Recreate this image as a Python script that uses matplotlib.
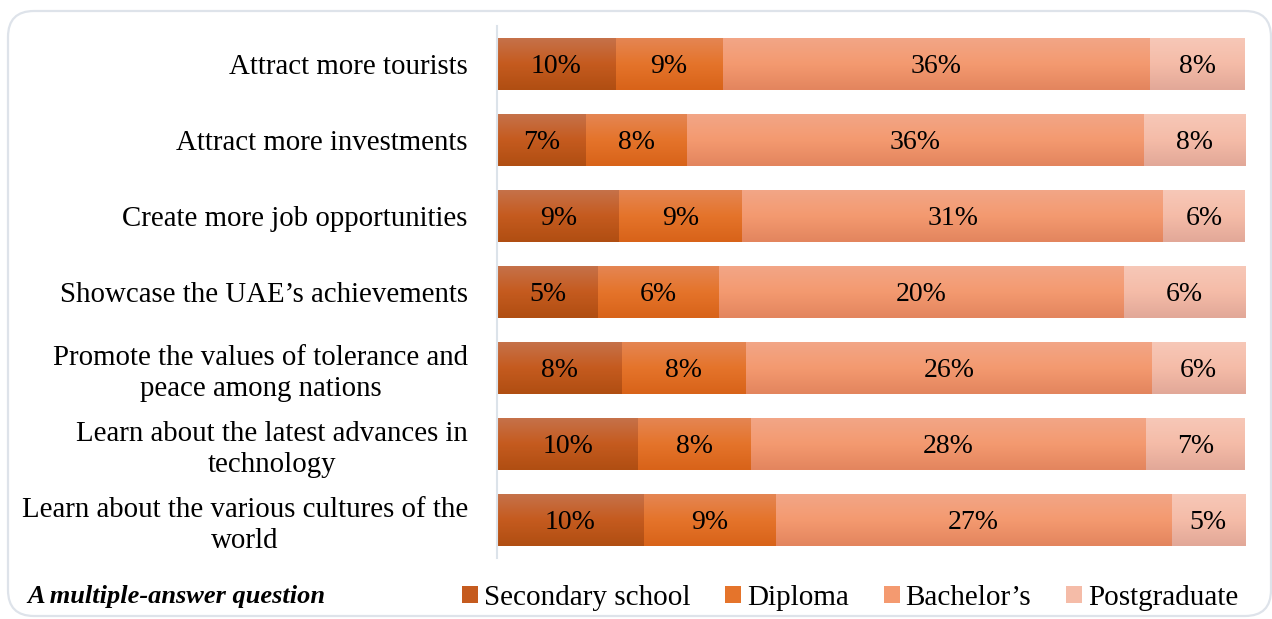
import matplotlib
matplotlib.use("Agg")
import matplotlib.pyplot as plt
import numpy as np
from matplotlib.patches import FancyBboxPatch, Patch
from matplotlib.colors import LinearSegmentedColormap

plt.rcParams["font.family"] = ["Liberation Serif", "DejaVu Serif"]

categories = [
    "Attract more tourists",
    "Attract more investments",
    "Create more job opportunities",
    "Showcase the UAE\u2019s achievements",
    "Promote the values of tolerance and\npeace among nations",
    "Learn about the latest advances in\ntechnology",
    "Learn about the various cultures of the\nworld",
]
series = ["Secondary school", "Diploma", "Bachelor\u2019s", "Postgraduate"]
secondary = [10, 7, 9, 5, 8, 10, 10]
diploma = [9, 8, 9, 6, 8, 8, 9]
bachelors = [36, 36, 31, 20, 26, 28, 27]
postgrad = [8, 8, 6, 6, 6, 7, 5]

# top / middle / bottom shades for each series gradient
shades = [
    ("#C6724B", "#C55B1F", "#B04E12"),
    ("#E48654", "#E5742B", "#D86319"),
    ("#F2A687", "#F49A70", "#E3855E"),
    ("#F7C8B8", "#F5BCA8", "#E2A898"),
]

W, H = 1272, 619
fig = plt.figure(figsize=(W / 100, H / 100), dpi=100)
frame = FancyBboxPatch((8 / W, 1 - 616 / H), (1271 - 8) / W, (616 - 11) / H,
                       boxstyle="round,pad=0,rounding_size=%f" % (26 / W),
                       transform=fig.transFigure, facecolor="none", edgecolor="#DEE3EA",
                       linewidth=1.6, mutation_aspect=W / H, zorder=-1)
fig.patches.append(frame)

ax = fig.add_axes([497 / W, 1 - 558 / H, (1245 - 497) / W, (558 - 26) / H])
ax.set_facecolor("none")

data = np.array([secondary, diploma, bachelors, postgrad], dtype=float)
totals = data.sum(axis=0)
y = np.arange(len(categories))
left = np.zeros(len(categories))
h = 0.69

for i, name in enumerate(series):
    frac = data[i] / totals
    bars = ax.barh(y, frac, left=left, height=h, color=shades[i][1], linewidth=0)
    cmap = LinearSegmentedColormap.from_list("g%d" % i, list(shades[i]))
    grad = np.linspace(0, 1, 64).reshape(-1, 1)
    for b, v, l, f in zip(bars, data[i], left, frac):
        x0, y0 = b.get_x(), b.get_y()
        im = ax.imshow(grad, cmap=cmap, aspect="auto", interpolation="bilinear",
                       extent=(x0, x0 + b.get_width(), y0 + b.get_height(), y0), zorder=2)
        im.set_clip_path(b)
        ax.text(l + f / 2, b.get_y() + b.get_height() / 2 + 0.03, "%d%%" % v,
                ha="center", va="center", fontsize=20, color="black", zorder=3)
    left += frac

ax.set_xlim(0, 1)
ax.set_ylim(len(categories) - 0.5, -0.5)
ax.set_yticks(y)
ax.set_yticklabels(categories, fontsize=20.8, linespacing=1.27, multialignment="center")
ax.set_xticks([])
ax.tick_params(axis="y", length=0, pad=21)
for s in ["top", "right", "bottom"]:
    ax.spines[s].set_visible(False)
ax.spines["left"].set_color("#DCE3EA")
ax.spines["left"].set_linewidth(1.5)

handles = [Patch(facecolor=shades[i][1], edgecolor="none") for i in range(len(series))]
fig.legend(handles, series, loc="center left", bbox_to_anchor=(450 / W, 1 - 598 / H),
           ncol=4, frameon=False, fontsize=21, handlelength=0.55, handleheight=0.55,
           handletextpad=0.2, columnspacing=1.2, borderaxespad=0)

fig.text(27 / W, 1 - 597 / H, "A multiple-answer question", fontsize=19,
         fontweight="bold", fontstyle="italic", ha="left", va="center")

fig.savefig("out.png", dpi=100)
